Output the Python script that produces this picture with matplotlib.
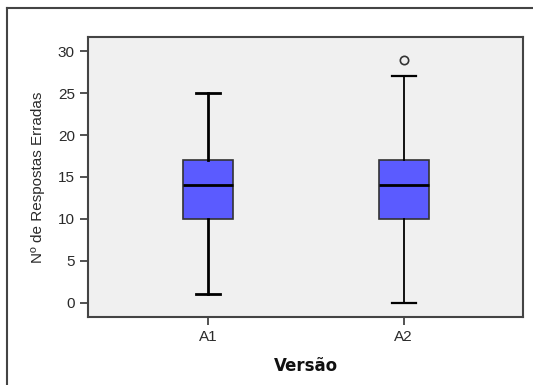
import numpy as np
import matplotlib.pyplot as plt
from matplotlib.lines import Line2D

# ============================================================
# Data
# ============================================================

versions   = ["A1", "A2"]
whislo     = [1, 0]
q1         = [10, 10]
medians    = [14, 14]
q3         = [17, 17]
whishi     = [25, 27]
outliers   = [[], [29]]

stats = []
for i, v in enumerate(versions):
    stats.append(dict(label=v, whislo=whislo[i], q1=q1[i], med=medians[i],
                      q3=q3[i], whishi=whishi[i], fliers=outliers[i]))

# ============================================================
# Figure
# ============================================================

W, H = 533, 385
fig = plt.figure(figsize=(W / 100, H / 100), dpi=100)
ax = fig.add_axes([88 / W, 1 - 317 / H, (523 - 88) / W, (317 - 37) / H])
ax.set_facecolor("#f0f0f0")

bp = ax.bxp(stats, positions=[1, 2], widths=0.255, patch_artist=True,
            showfliers=True,
            boxprops=dict(facecolor="#5b5bff", edgecolor="#333333", linewidth=1.2),
            medianprops=dict(color="black", linewidth=2),
            capwidths=0.125,
            flierprops=dict(marker="o", markersize=6, markerfacecolor="none",
                            markeredgecolor="#333333", markeredgewidth=1.2))

# first box's whiskers are drawn heavier in the reference
for i, lw in enumerate([2, 2, 1.3, 1.3]):
    bp["whiskers"][i].set_linewidth(lw)
    bp["whiskers"][i].set_color("black")
    bp["caps"][i].set_linewidth(2 if i < 2 else 1.6)
    bp["caps"][i].set_color("black")

ax.set_xlim(0.387, 2.609)
ax.set_ylim(-1.7, 31.7)
ax.set_yticks([0, 5, 10, 15, 20, 25, 30])
ax.set_xticks([1, 2])
ax.set_xticklabels(versions)

for s in ax.spines.values():
    s.set_color("#444444")
    s.set_linewidth(1.5)

ax.tick_params(axis="both", direction="out", length=6, width=1.3,
               color="#444444", labelcolor="#2a2a2a", labelsize=11)
for lbl in ax.get_xticklabels() + ax.get_yticklabels():
    lbl.set_family("Liberation Sans")

ax.set_ylabel("Nº de Respostas Erradas", family="Liberation Sans",
              fontsize=11, color="#2a2a2a", labelpad=9)
ax.set_xlabel("Versão", family="DejaVu Sans", fontweight="bold",
              fontsize=12, color="#111111", labelpad=9)

# outer frame (left and top edges visible)
fig.add_artist(Line2D([7 / W, 7 / W], [0, 1 - 8 / H], transform=fig.transFigure,
                      color="#444444", linewidth=1.5))
fig.add_artist(Line2D([7 / W, 1], [1 - 8 / H, 1 - 8 / H], transform=fig.transFigure,
                      color="#444444", linewidth=1.5))

fig.savefig("out.png", dpi=100)
